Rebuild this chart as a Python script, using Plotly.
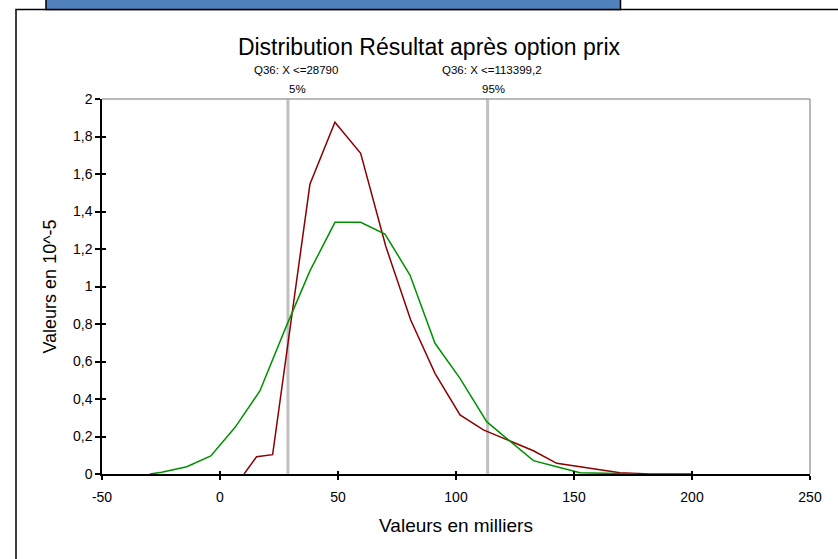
import plotly.graph_objects as go

# ---- data (values in thousands / 10^-5) ----
red_x = [10.2, 15.5, 22.3, 38.1, 48.7, 59.6, 70.3, 80.8, 91.1, 101.7, 111.6, 122.9,
         132.8, 142.7, 152.5, 162.4, 169.5, 182.0, 200.0]
red_y = [0.0, 0.092, 0.103, 1.545, 1.876, 1.710, 1.212, 0.821, 0.537, 0.315, 0.235, 0.176,
         0.124, 0.057, 0.039, 0.018, 0.007, 0.0, 0.0]

green_x = [-29.7, -24.7, -14.1, -3.9, 6.4, 16.9, 27.5, 38.1, 48.7, 59.6, 69.9, 80.5,
           91.1, 101.7, 113.0, 122.4, 132.8, 142.7, 152.5, 162.9, 176.6]
green_y = [0.0, 0.009, 0.039, 0.096, 0.249, 0.443, 0.77, 1.083, 1.342, 1.342, 1.28, 1.061,
           0.697, 0.510, 0.279, 0.18, 0.071, 0.039, 0.007, 0.004, 0.0]

quantile_x = [28.79, 113.3992]
quantile_labels = ["Q36: X <=28790", "Q36: X <=113399,2"]
quantile_pcts = ["5%", "95%"]

x_ticks = [-50, 0, 50, 100, 150, 200, 250]
x_ticktext = ["-50", "0", "50", "100", "150", "200", "250"]
y_ticks = [0, 0.2, 0.4, 0.6, 0.8, 1.0, 1.2, 1.4, 1.6, 1.8, 2.0]
y_ticktext = ["0", "0,2", "0,4", "0,6", "0,8", "1", "1,2", "1,4", "1,6", "1,8", "2"]

FONT = "Liberation Sans, Arial, sans-serif"

fig = go.Figure()
fig.add_trace(go.Scatter(x=red_x, y=red_y, mode="lines",
                         line=dict(color="#8B0000", width=1.5), showlegend=False))
fig.add_trace(go.Scatter(x=green_x, y=green_y, mode="lines",
                         line=dict(color="#009000", width=1.5), showlegend=False))
# invisible trace on overlay axes (for crossing ticks)
fig.add_trace(go.Scatter(x=[None], y=[None], xaxis="x2", yaxis="y2", showlegend=False))

shapes = []
# quantile lines
for qx in quantile_x:
    shapes.append(dict(type="line", xref="x", yref="paper", x0=qx, x1=qx, y0=0, y1=1,
                       line=dict(color="#C0C0C0", width=3), layer="below"))
# gray top / right plot border
shapes.append(dict(type="line", xref="paper", yref="paper", x0=0, x1=1, y0=1, y1=1,
                   line=dict(color="#A0A0A0", width=1.5)))
shapes.append(dict(type="line", xref="paper", yref="paper", x0=1, x1=1, y0=0, y1=1,
                   line=dict(color="#A0A0A0", width=1.5)))

# chart frame and blue header bar (pixel -> paper)
def px2x(p):
    return (p - 102) / 708.0

def py2y(p):
    return (474 - p) / 375.0

shapes.append(dict(type="rect", xref="paper", yref="paper",
                   x0=px2x(16), x1=px2x(845), y0=py2y(570), y1=py2y(9.5),
                   line=dict(color="black", width=1.5), fillcolor="rgba(0,0,0,0)", layer="below"))
shapes.append(dict(type="rect", xref="paper", yref="paper",
                   x0=px2x(46), x1=px2x(620.5), y0=py2y(9.5), y1=py2y(-5),
                   line=dict(color="black", width=1.5), fillcolor="#4F81BD"))

annotations = []
for qx, lab, pct, shift in zip(quantile_x, quantile_labels, quantile_pcts, [8, 4]):
    annotations.append(dict(x=qx, y=py2y(70), xref="x", yref="paper", text=lab,
                            showarrow=False, xshift=shift, yanchor="middle",
                            font=dict(family=FONT, size=11.5, color="black")))
    annotations.append(dict(x=qx, y=py2y(89), xref="x", yref="paper", text=pct,
                            showarrow=False, xshift=shift + 2, yanchor="middle",
                            font=dict(family=FONT, size=11.5, color="black")))

fig.update_layout(
    width=838, height=559,
    margin=dict(l=102, r=28, t=99, b=85),
    paper_bgcolor="white", plot_bgcolor="white",
    font=dict(family=FONT, color="black"),
    title=dict(text="Distribution Résultat après option prix", xref="container",
               x=429 / 838, y=1 - 47 / 559, xanchor="center", yanchor="middle",
               font=dict(family=FONT, size=23, color="black")),
    xaxis=dict(range=[-50, 250], tickvals=x_ticks, ticktext=x_ticktext, ticks="outside",
               ticklen=4, tickcolor="black", tickwidth=1.5, showline=True,
               linecolor="black", linewidth=1.5, showgrid=False, zeroline=False,
               ticklabelstandoff=5,
               tickfont=dict(family=FONT, size=14, color="black"),
               title=dict(text="Valeurs en milliers", standoff=15,
                          font=dict(family=FONT, size=19, color="black"))),
    yaxis=dict(range=[0, 2], tickvals=y_ticks, ticktext=y_ticktext, ticks="outside",
               ticklen=5, tickcolor="black", tickwidth=1.5, showline=True,
               linecolor="black", linewidth=1.5, showgrid=False, zeroline=False,
               tickfont=dict(family=FONT, size=14, color="black"),
               title=dict(text="Valeurs en 10^-5", standoff=12,
                          font=dict(family=FONT, size=18, color="black"))),
    xaxis2=dict(range=[-50, 250], tickvals=x_ticks, ticks="inside", ticklen=3,
                tickcolor="black", tickwidth=1.5, showticklabels=False, showgrid=False,
                zeroline=False, showline=False, overlaying="x", side="bottom"),
    yaxis2=dict(range=[0, 2], tickvals=y_ticks, ticks="inside", ticklen=4,
                tickcolor="black", tickwidth=1.5, showticklabels=False, showgrid=False,
                zeroline=False, showline=False, overlaying="y", side="left"),
    shapes=shapes,
    annotations=annotations,
)

fig.write_html("out.html", config={"displayModeBar": False},
               post_script="document.body.style.margin='0';document.body.style.overflow='hidden';")
